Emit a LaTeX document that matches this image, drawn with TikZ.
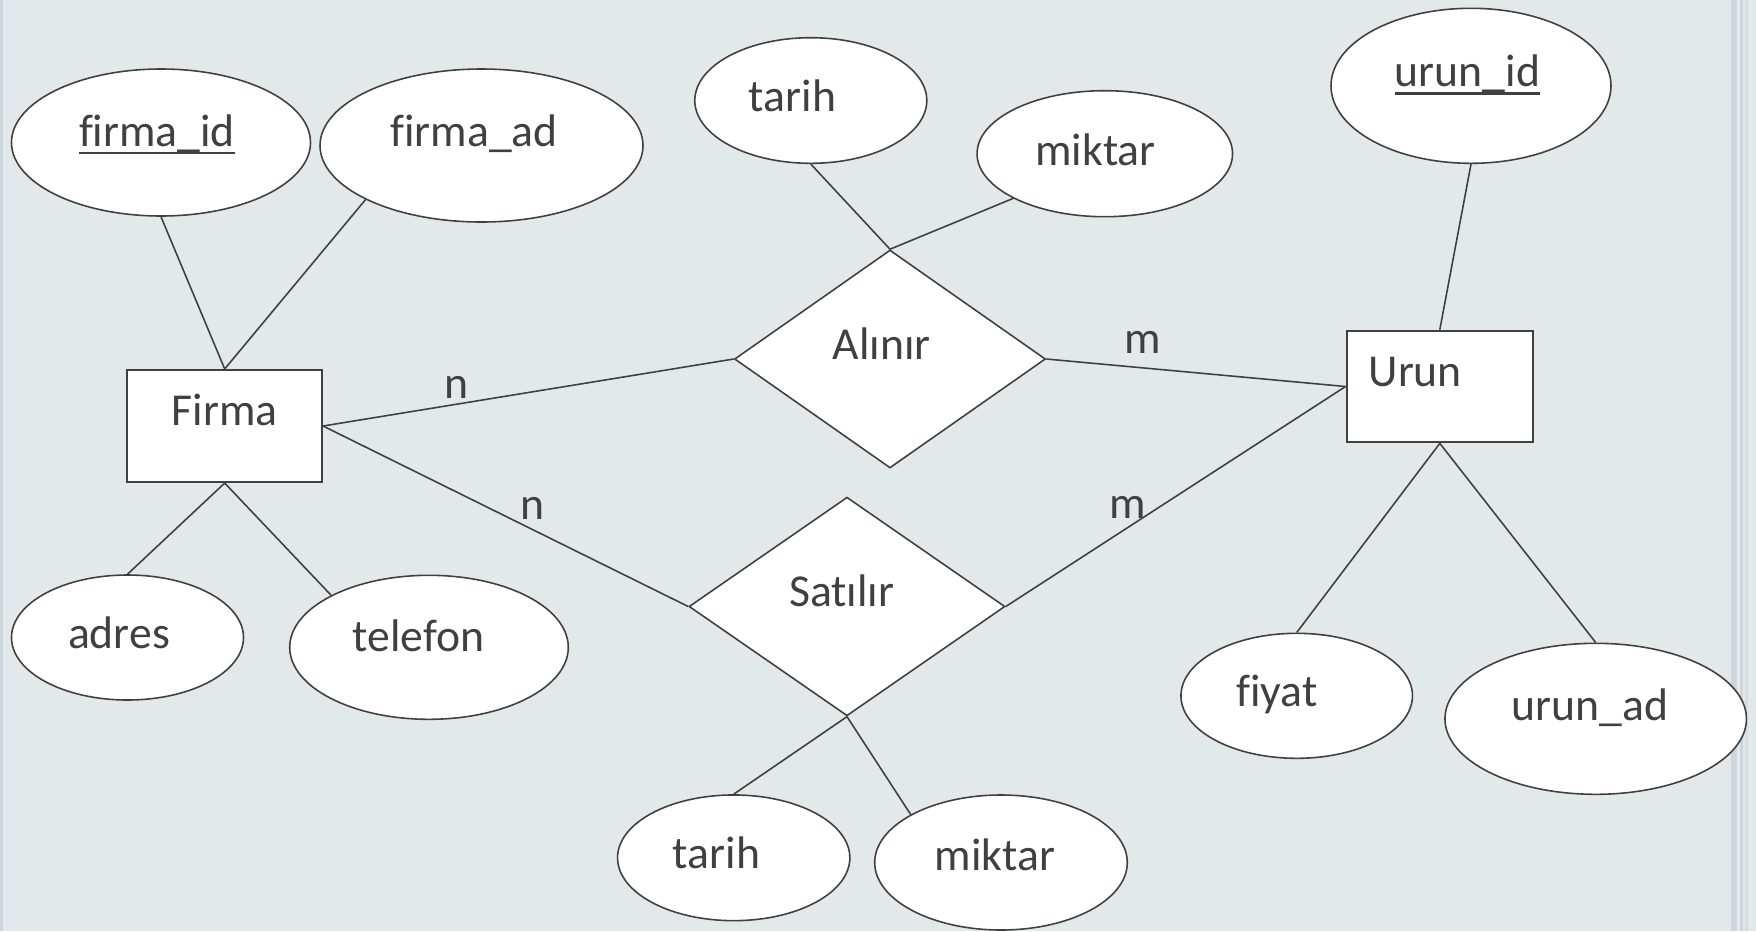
\documentclass[tikz,border=0pt]{standalone}
\usepackage{fontspec}
\setmainfont{Carlito}[Ligatures=NoCommon, RawFeature={-liga}]
\usepackage{tikz}
\usetikzlibrary{shapes.geometric}

\definecolor{bgcol}{HTML}{E3E8EB}
\definecolor{edgecol}{HTML}{CDD6DC}
\definecolor{ink}{HTML}{404040}

\newsavebox\keybox
\newcommand\keyname[1]{\sbox\keybox{#1}\usebox\keybox\llap{\rule[-0.18em]{\wd\keybox}{0.055em}}}

\begin{document}
\begin{tikzpicture}[
    x=0.1mm, y=-0.1mm,
    attr/.style={ellipse, draw=ink, line width=0.45pt, fill=white, inner sep=0pt},
    entity/.style={rectangle, draw=ink, line width=0.6pt, fill=white, inner sep=0pt},
    rel/.style={diamond, draw=ink, line width=0.45pt, fill=white, inner sep=0pt},
    link/.style={draw=ink, line width=0.45pt},
    txt/.style={anchor=base, text=ink, inner sep=0pt, font=\fontsize{13}{16}\selectfont}
]

    % Background and slide edges
    \fill[bgcol] (0,0) rectangle (1756,931);
    \useasboundingbox (0,0) rectangle (1756,931);
    \fill[edgecol] (0,0) rectangle (3,931);
    \fill[edgecol] (1731,0) rectangle (1737,931);
    \fill[edgecol] (1740,0) rectangle (1743,931);
    \fill[edgecol!80] (1745,0) rectangle (1748,931);

    % Draw entities and relations
    \node[entity, minimum width=19.46mm, minimum height=11.2mm] (firma) at (224.7,426) {};
    \node[entity, minimum width=18.64mm, minimum height=11.16mm] (urun) at (1439.8,386.5) {};
    \node[rel, minimum width=31.1mm, minimum height=21.8mm] (alinir) at (890,359) {};
    \node[rel, minimum width=31.6mm, minimum height=21.87mm] (satilir) at (847,606.5) {};

    % Draw attributes
    \node[attr, minimum width=29.9mm, minimum height=14.7mm] (firma_id) at (161,142.5) {};
    \node[attr, minimum width=32.3mm, minimum height=15.3mm] (firma_ad) at (481.5,145.5) {};
    \node[attr, minimum width=23.2mm, minimum height=12.5mm] (adres) at (127.5,637.5) {};
    \node[attr, minimum width=27.86mm, minimum height=14.4mm] (telefon) at (429,647.3) {};
    \node[attr, minimum width=23.2mm, minimum height=12.56mm] (tarih_a) at (810.8,100.5) {};
    \node[attr, minimum width=25.55mm, minimum height=12.6mm] (miktar_a) at (1104.8,153.7) {};
    \node[attr, minimum width=23.23mm, minimum height=12.57mm] (tarih_s) at (733.7,857.8) {};
    \node[attr, minimum width=25.26mm, minimum height=13.5mm] (miktar_s) at (1001,862.5) {};
    \node[attr, minimum width=28mm, minimum height=15.5mm] (urun_id) at (1471,85.8) {};
    \node[attr, minimum width=23.15mm, minimum height=12.5mm] (fiyat) at (1296.7,695.8) {};
    \node[attr, minimum width=30.15mm, minimum height=15.1mm] (urun_ad) at (1595.7,718.8) {};

    % Texts
    \path[txt] (224.7,425) node (t_firma) {Firma}
               (1368,386.7) node[anchor=base west] (t_urun) {Urun}
               (881.8,359) node (t_alinir) {Alınır}
               (841.7,606.7) node (t_satilir) {Satılır}
               (157,146) node (t_firma_id) {\keyname{firma\_id}}
               (474,146.7) node (t_firma_ad) {firma\_ad}
               (119,648) node (t_adres) {adres}
               (418.5,651.7) node (t_telefon) {telefon}
               (792.5,111) node (t_tarih_a) {tarih}
               (1095.5,165) node (t_miktar_a) {miktar}
               (716.5,868.3) node (t_tarih_s) {tarih}
               (995,870) node (t_miktar_s) {miktar}
               (1467.5,86.7) node (t_urun_id) {\keyname{urun\_id}}
               (1277,706.7) node (t_fiyat) {fiyat}
               (1590,720) node (t_urun_ad) {urun\_ad};

    % Draw relationships
    \draw[link] (firma.east) -- (alinir.west);
    \draw[link] (alinir.east) -- (urun.west);
    \draw[link] (firma.east) -- (satilir.west);
    \draw[link] (satilir.east) -- (urun.west);

    % Draw attribute links
    \draw[link] (firma_id.south) -- (firma.north);
    \draw[link] (firma_ad.205) -- (firma.north);
    \draw[link] (adres.north) -- (firma.south);
    \draw[link] (telefon.152) -- (firma.south);
    \draw[link] (tarih_a.south) -- (alinir.north);
    \draw[link] (miktar_a.206) -- (alinir.north);
    \draw[link] (tarih_s.north) -- (satilir.south);
    \draw[link] (miktar_s.152) -- (satilir.south);
    \draw[link] (urun_id.south) -- (urun.north);
    \draw[link] (fiyat.north) -- (urun.south);
    \draw[link] (urun_ad.north) -- (urun.south);

    % Cardinalities
    \path[txt] (456,398) node (n_alinir) {n}
               (532,519) node (n_satilir) {n}
               (1143,353) node (m_alinir) {m}
               (1128,518) node (m_satilir) {m};

\end{tikzpicture}
\end{document}
